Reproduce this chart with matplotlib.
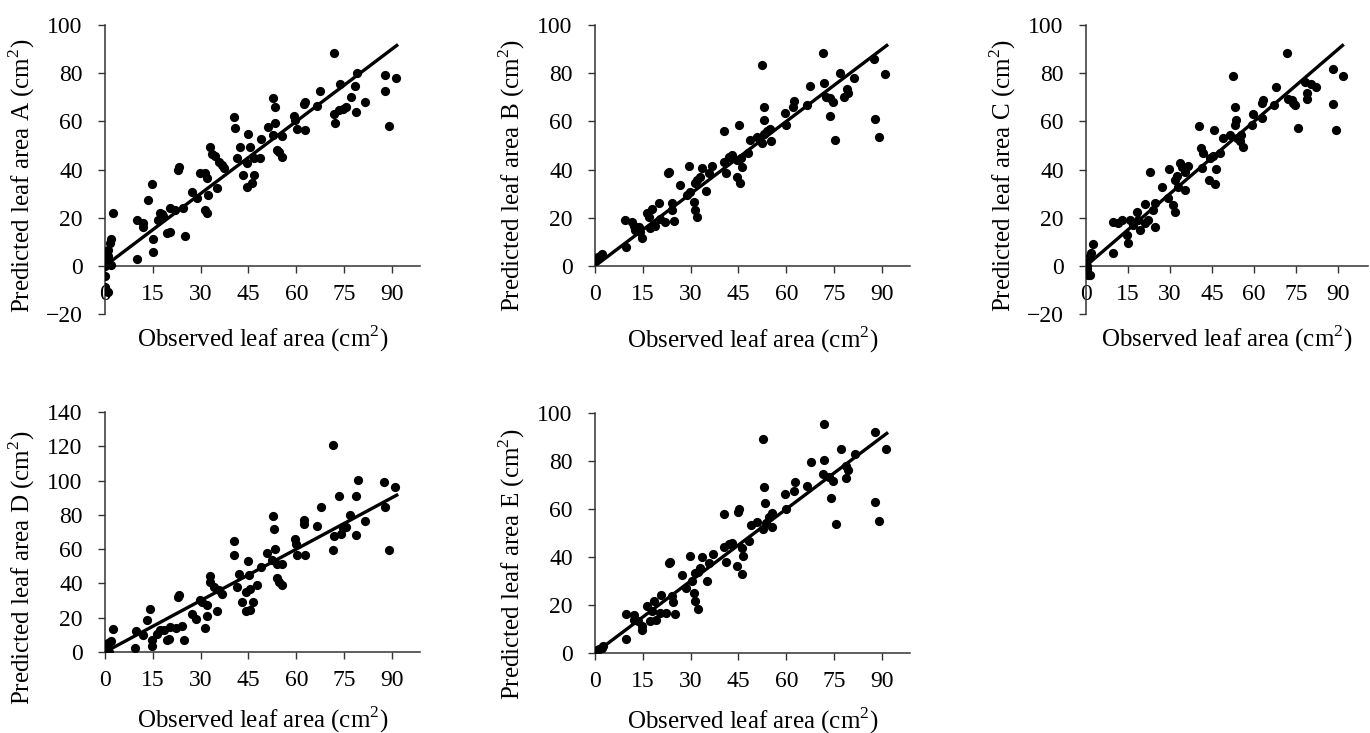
import matplotlib
matplotlib.use('Agg')
import matplotlib.pyplot as plt

plt.rcParams.update({'font.family': 'Liberation Serif'})
plt.rcParams.update({'mathtext.fontset': 'custom'})
plt.rcParams.update({'mathtext.rm': 'Liberation Serif'})

# observed / predicted leaf area (cm2)
obs_a = [0, 0, 0, 0, 1, 0.5, 1, 1.6, 2, 2.6, 1.8, 1,
         9.9, 9.9, 12, 12, 13.6, 14.7, 15, 15, 16.7, 17.3, 17.8, 18.3, 19.4, 20.4, 20.4, 22, 23, 23.3, 24.6, 25.1,
         27.2, 28.8, 29.8, 31.4, 31.9, 31.4, 31.9, 32.4, 35,
         33, 33.5, 34.5, 35.6, 36.6, 37.2,
         40.5, 40.8, 41.3, 42.4, 43.2, 44.5, 46, 46.6, 45, 45.5, 44.5, 46.6, 48.5, 49,
         51, 52.8, 53.2, 53.4, 52.8, 55.5, 53.9, 54.7, 55.5,
         59.3, 59.7, 60.2, 62.8, 62.3, 62.8, 66.5, 67.5,
         71.7, 71.7, 72.2, 73.3, 73.8, 74.8, 75.7, 77.2, 78.5, 79, 78.8, 81.4,
         87.9, 87.9, 89.2, 91.3]
pred_a = [3, 0, -4.4, -8.6, -11, 1, 6.6, 9.4, 11, 21.9, 0.4, 3.9,
          2.8, 19.1, 17.7, 16, 27.4, 34, 11, 5.7, 19.1, 21.9, 21.5, 20.7, 13.6, 14.2, 23.9, 23.2, 39.8, 40.9, 23.9, 12.4,
          30.8, 28.1, 38.5, 38.5, 36.4, 23.2, 21.9, 29.5, 32.2,
          49.2, 46.5, 45.4, 43.3, 41.9, 40.5,
          61.7, 57.4, 44.7, 49.5, 37.8, 32.9, 34.3, 37.8, 54.8, 49.5, 42.6, 44.7, 44.7, 52.6,
          57.8, 69.6, 65.8, 59.2, 54.4, 53.9, 48.1, 47.4, 45,
          62.2, 60.6, 56.7, 56.4, 67.2, 68.2, 66.5, 72.8,
          88.5, 63.1, 59.2, 64.7, 75.5, 65, 65.8, 70, 74.7, 80, 64, 67.9,
          79.3, 72.6, 58.2, 77.9]

obs_b = [0, 0, 0.5, 1, 2.1, 1.6,
         9.8, 9.4, 11.5, 12.1, 12.6, 14.2, 14.7, 13.9,
         16.3, 16.8, 17.8, 17.3, 18.9, 20.2, 20.5, 22, 22.8, 23.1, 24.1, 24.1, 24.9,
         26.7, 28.8, 29.4, 29.9, 31, 31.5, 32, 31.5, 32, 33, 33.6, 34.9, 35.7, 36.7,
         40.4, 40.6, 41.2, 42, 43, 44.6, 45.1, 44.6, 45.6, 46.2, 45.9,
         47.9, 48.6, 50.9, 52.5, 53, 52.5, 53, 53, 53.8, 54.9, 55.3,
         59.5, 59.8, 62.4, 62.2, 66.4, 67.4,
         71.6, 71.9, 72.4, 73.7, 74.5, 73.6, 75.2,
         76.9, 78.1, 79, 79.2, 81.3,
         87.6, 87.8, 89, 90.9]
pred_b = [2.2, 2.8, 3.3, 3.9, 5, 4.2,
          7.7, 19.1, 18.4, 16.6, 14.9, 14.2, 11.5, 16.2,
          21.9, 20.2, 23.5, 15.6, 16.6, 26, 19.4, 18.4, 38.7, 39.1, 26, 23.2, 18.8,
          33.6, 29.5, 41.5, 30.8, 26.7, 23.2, 20.2, 34.6, 35.7, 37.1, 40.5, 31.3, 38.5, 41.5,
          56.2, 43.3, 38.7, 45.4, 46.1, 44, 58.5, 37.1, 34.3, 41.2, 44.7,
          47, 52.3, 53.7, 50.9, 54.8, 83.4, 66.1, 60.6, 56.2, 56.7, 52,
          63.3, 58.5, 68.6, 66.1, 66.8, 74.7,
          88.5, 76.1, 70.3, 69.6, 68.2, 62.2, 52.3,
          80, 70, 73.3, 71.6, 77.9,
          85.8, 60.9, 53.7, 79.7]

obs_c = [0, 0, 0, 0.8, 1.4, 1.4, 1.7, 2.6, 0.2, 0.3,
         9.5, 9.7, 11.5, 12.8, 14.5, 15.1, 15.7, 16.9, 18.1, 18.7, 19.3, 21, 22.2, 21, 22.8, 23.8, 24.6, 24.6,
         27, 29.1, 29.6, 31.1, 31.7, 31.7, 32.3, 32.9, 33.5, 34.1, 35.3, 36.5, 35.3,
         40.3, 40.9, 41.9, 41.3, 44, 46, 45.7, 46.4, 44.2, 45.2, 47.8, 49,
         52.6, 53.1, 53.4, 53.1, 51.4, 53.7, 55, 55.9, 55.3,
         59.1, 59.7, 62.7, 62.7, 63.3, 67.1, 67.8,
         71.8, 72.2, 73.4, 74.6, 75.8, 74,
         78.1, 79, 79, 80.2, 82.1,
         88.2, 88.2, 89.2, 91.6]
pred_c = [0.4, 1.1, -3, -3.7, -3.7, 3.9, 5.3, 9.1, -1.4, 0,
          18.4, 5.3, 17.7, 19.1, 12.9, 9.4, 19.1, 17, 22.5, 19.1, 14.7, 17.7, 19.1, 25.7, 38.9, 23.2, 26, 16.3,
          32.9, 28.1, 40.1, 25.3, 22.5, 35.7, 37.1, 32.9, 42.6, 41.2, 31.5, 41.6, 39.1,
          58.2, 48.8, 46.7, 40.5, 35.7, 34, 56.4, 40.1, 44.7, 45.4, 46.7, 53,
          78.8, 65.8, 60.6, 58.5, 54.4, 53, 52, 49.5, 54.4,
          58.5, 63.1, 61.3, 67.8, 68.9, 66.8, 74.1,
          88.5, 69.2, 69, 66.8, 57.1, 67.8,
          76.5, 71.9, 69.2, 75.5, 74.4,
          81.6, 67.2, 56.2, 78.8]

obs_d = [0, 0, 0.5, 1, 1.8, 1.4, 2.4, 0.3,
         9.4, 9.8, 11.9, 13.3, 14.2, 14.7, 14.7, 16.3, 17.3, 18.4, 19.4, 20.2, 20.5, 22.3, 22.8, 23.1, 24.1, 24.9,
         27.3, 28.6, 29.7, 30.4, 31.5, 32, 32, 32.8, 33, 34.2, 35, 35.7, 36.7,
         40.4, 40.6, 41.4, 42, 43, 44.1, 45.4, 46.5, 44.8, 45.1, 44.1, 45.6, 47.7, 48.8,
         50.9, 52.8, 53, 53.2, 52.5, 54, 55.6, 54, 54.6, 55.6,
         59.5, 59.8, 60.1, 62.6, 62.4, 62.4, 66.6, 67.7,
         71.6, 71.6, 71.9, 73.4, 74.8, 73.9, 75.5,
         76.9, 78.7, 78.7, 79.2, 81.5,
         87.6, 87.8, 89, 91]
pred_d = [0.6, 1.9, 2.9, 5.2, 6.4, 0, 13.6, 0.2,
          2.5, 12.2, 9.7, 18.5, 24.9, 6.8, 3.5, 10.7, 13, 12.6, 7.2, 7.8, 14.6, 14.2, 32.1, 33.4, 15, 7.2,
          22.4, 19.4, 30.5, 29.2, 14, 20.8, 27.2, 44.1, 40.8, 37.9, 23.9, 36, 34,
          64.7, 56.8, 37.9, 45.3, 29.2, 23.9, 24.7, 29.2, 52.9, 44.7, 35, 36.9, 38.9, 49.6,
          57.7, 79.3, 71.9, 60.3, 53.5, 51.5, 51.5, 43.4, 40.8, 38.9,
          66.1, 62.8, 56.4, 56.4, 77.2, 74.9, 73.3, 84.6,
          120.5, 59.7, 67.5, 90.8, 72.5, 69, 72.9,
          79.7, 68.1, 90.8, 100.1, 76.4,
          99.2, 84.6, 59.3, 96.2]

obs_e = [0, 0.3, 0.5, 1.4, 2.1, 2.6,
         9.8, 9.8, 12.1, 12.1, 13.6, 14.7, 14.7, 16.3, 17.1, 18.4, 17.8, 19.2, 20.5, 20.7, 22.3, 23.1, 23.4, 24.1, 24.4, 25.2,
         27.3, 28.6, 29.7, 30.4, 31.2, 31.5, 32.2, 31.5, 32.2, 33, 33.6, 35.1, 35.7, 37,
         40.6, 40.6, 41.2, 42, 43, 44.8, 45.1, 44.6, 46.2, 46.5, 46.2,
         48.3, 48.8, 50.9, 52.8, 53.5, 52.8, 53, 53.2, 54.5, 55.6, 55.6,
         59.8, 59.5, 62.6, 62.4, 66.6, 67.7,
         71.9, 71.9, 71.6, 73.4, 74.8, 73.9, 75.5,
         77.1, 78.7, 79.2, 78.7, 81.5,
         87.8, 87.8, 89, 91.3]
pred_e = [0.4, 0.7, 1.1, 1.7, 2.1, 2.8,
          5.8, 16.3, 15.9, 13.9, 13.2, 9.7, 11.4, 19.4, 13.2, 21.5, 17.3, 13.9, 16.6, 24.2, 16.6, 37.7, 38.1, 23.8, 21.1, 16.3,
          32.5, 27, 40.4, 29.8, 25.2, 21.5, 18.3, 33.2, 33.9, 35.3, 39.9, 29.8, 37.4, 41.1,
          57.8, 44.3, 38.1, 45.3, 46, 58.6, 60, 36.4, 33, 40.4, 43.6,
          46.8, 53.3, 54.7, 51.5, 54, 89.3, 69, 62.3, 56.8, 58.2, 52.6,
          60.2, 66.2, 71.3, 67.6, 69.5, 79.4,
          95.3, 80.3, 74.5, 73.4, 71.7, 64.4, 53.6,
          85.2, 77.8, 76.2, 73.1, 82.8,
          92.1, 63, 55.1, 84.8]

# 1:1 fit line
fit_x = [1, 91.5]
fit_y = [1, 91.5]

x_ticks = [0, 15, 30, 45, 60, 75, 90]

W, H = 1370, 733
fig = plt.figure(figsize=(W / 100, H / 100), dpi=100)

# panel: (obs, pred, letter, left, right, top, bottom px, ylim, yticks, xmax, label centre y px, xlabel gap px)
panels = [
    (obs_a, pred_a, 'A', 105, 420, 25, 314, (-20, 100), range(-20, 101, 20), 98.8, 176, 58),
    (obs_b, pred_b, 'B', 595, 910, 25, 266, (0, 100), range(0, 101, 20), 98.8, 176, 58),
    (obs_c, pred_c, 'C', 1086, 1368, 25, 314, (-20, 100), range(-20, 101, 20), 100.6, 176, 58),
    (obs_d, pred_d, 'D', 105, 420, 412, 652, (0, 140), range(0, 141, 20), 98.8, 568, 52),
    (obs_e, pred_e, 'E', 595, 910, 413, 653, (0, 100), range(0, 101, 20), 98.8, 564, 52),
]

for obs, pred, let, l, r, t, b, ylim, yt, xmax, lab_y, gap in panels:
    ax = fig.add_axes([l / W, 1 - b / H, (r - l) / W, (b - t) / H])
    ax.scatter(obs, pred, s=44, color='black', zorder=3, linewidths=0)
    ax.plot(fit_x, fit_y, color='black', linewidth=2.4, zorder=4)
    ax.set_xlim(0, xmax)
    ax.set_ylim(*ylim)
    ax.set_xticks(x_ticks)
    ax.set_yticks(list(yt))
    ax.spines['top'].set_visible(False)
    ax.spines['right'].set_visible(False)
    ax.spines['bottom'].set_position(('data', 0))
    for sp in ('left', 'bottom'):
        ax.spines[sp].set_color('#333333')
        ax.spines[sp].set_linewidth(1.1)
    ax.tick_params(axis='both', direction='out', length=5, width=1, color='#333333', labelsize=17)
    ax.tick_params(axis='x', pad=8)
    ax.tick_params(axis='y', pad=11)
    ax.set_xlabel('Observed leaf area (cm$^{2}$)', fontsize=18)
    ax.set_ylabel('Predicted leaf area ' + let + ' (cm$^{2}$)', fontsize=18)
    # x label sits a fixed distance under the y=0 axis line
    y0_px = b - (0 - ylim[0]) / (ylim[1] - ylim[0]) * (b - t)
    ax.xaxis.set_label_coords(0.5, (b - (y0_px + gap)) / (b - t))
    ax.yaxis.set_label_coords((37 - 105) / (r - l), (b - lab_y) / (b - t))

plt.savefig('out.png', dpi=100)
